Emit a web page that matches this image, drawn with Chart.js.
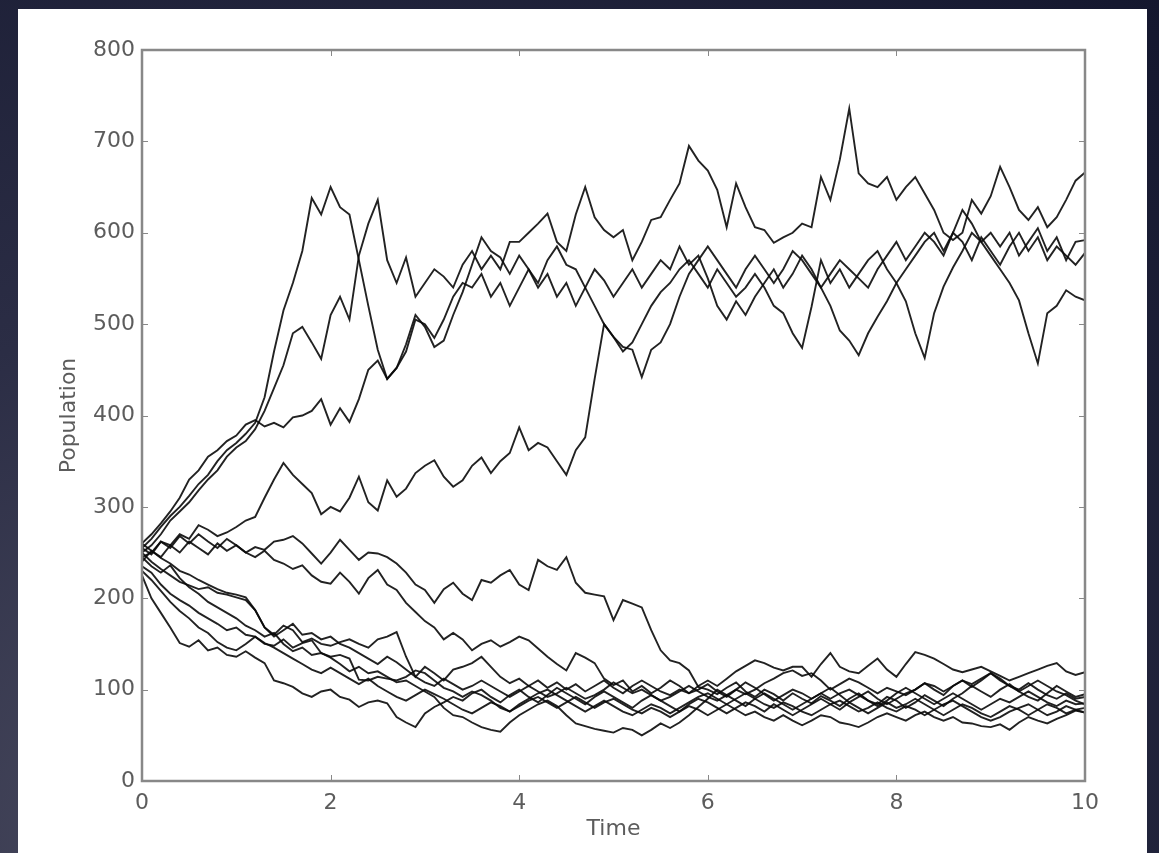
<!DOCTYPE html>
<html>
<head>
<meta charset="utf-8">
<script src="https://cdn.jsdelivr.net/npm/chart.js@4.4.1/dist/chart.umd.min.js"></script>
<style>
  html, body { margin: 0; width: 1159px; height: 853px; overflow: hidden; }
  body { background: radial-gradient(ellipse at 20% 100%, #4b4c60 0%, #2b2d45 45%, #14172e 100%); }
  #panel { position: absolute; left: 18px; top: 9px; width: 1129px; height: 844px; background: #fff; }
</style>
</head>
<body>
<div id="panel"><canvas id="chart" width="1129" height="844"></canvas></div>
<script>
const times = [
  0, 0.1, 0.2, 0.3, 0.4, 0.5, 0.6, 0.7, 0.8, 0.9,
  1, 1.1, 1.2, 1.3, 1.4, 1.5, 1.6, 1.7, 1.8, 1.9,
  2, 2.1, 2.2, 2.3, 2.4, 2.5, 2.6, 2.7, 2.8, 2.9,
  3, 3.1, 3.2, 3.3, 3.4, 3.5, 3.6, 3.7, 3.8, 3.9,
  4, 4.1, 4.2, 4.3, 4.4, 4.5, 4.6, 4.7, 4.8, 4.9,
  5, 5.1, 5.2, 5.3, 5.4, 5.5, 5.6, 5.7, 5.8, 5.9,
  6, 6.1, 6.2, 6.3, 6.4, 6.5, 6.6, 6.7, 6.8, 6.9,
  7, 7.1, 7.2, 7.3, 7.4, 7.5, 7.6, 7.7, 7.8, 7.9,
  8, 8.1, 8.2, 8.3, 8.4, 8.5, 8.6, 8.7, 8.8, 8.9,
  9, 9.1, 9.2, 9.3, 9.4, 9.5, 9.6, 9.7, 9.8, 9.9,
  10
];

// runs that climb to the upper state
const upper1 = [
  255, 265, 278, 290, 300, 312, 325, 335, 350, 362,
  370, 380, 392, 420, 470, 515, 545, 580, 638, 620,
  650, 628, 620, 570, 520, 472, 440, 452, 470, 505,
  500, 485, 505, 530, 545, 540, 555, 530, 545, 520,
  540, 560, 545, 570, 585, 565, 560, 540, 520, 500,
  486, 470, 480, 500, 520, 535, 545, 560, 570, 555,
  540, 560, 545, 530, 540, 555, 540, 520, 512, 490,
  474, 519, 570, 545, 560, 540, 555, 570, 580, 560,
  545, 525, 490, 463, 512, 541, 562, 580, 600, 590,
  575, 560, 545, 526, 490, 457, 512, 520, 537, 530,
  526
];
const upper2 = [
  250, 258, 270, 285, 295, 305, 318, 330, 340, 355,
  365, 372, 385, 405, 430, 455, 490, 497, 480, 462,
  510, 530, 505, 575, 610, 636, 570, 545, 573, 530,
  545, 560, 552, 540, 565, 580, 560, 575, 560, 590,
  590, 600, 610, 621, 590, 580, 620, 650, 617, 603,
  595, 603, 570, 590, 614, 617, 636, 654, 695, 679,
  668, 647, 606, 654, 628, 606, 603, 589, 595, 600,
  610, 606, 661, 636, 680, 736, 665, 654, 650, 661,
  636, 650, 661, 643, 625, 600, 592, 600, 636, 621,
  640, 672, 650, 625, 614, 628, 606, 617, 636, 657,
  666
];
const upper3 = [
  260, 270, 282, 295, 310, 330, 340, 355, 362, 372,
  378, 390, 395, 388, 392, 387, 398, 400, 405, 418,
  390, 408, 393, 418, 450, 460, 440, 452, 478, 510,
  497, 475, 482, 510, 535, 565, 595, 580, 573, 555,
  575, 560, 540, 555, 530, 545, 520, 540, 560, 548,
  530, 545, 560, 540, 555, 570, 560, 585, 565, 575,
  550, 520, 505, 525, 510, 530, 545, 560, 540, 555,
  575, 560, 540, 520, 493, 482, 466, 490, 508, 525,
  545, 560, 575, 590, 600, 580, 600, 625, 610, 590,
  600, 585, 600, 575, 590, 605, 580, 595, 570, 590,
  592
];
const upper4 = [
  245, 250, 262, 258, 270, 265, 280, 275, 268, 272,
  278, 285, 289, 310, 330, 348, 335, 325, 315, 292,
  300, 295, 310, 333, 305, 296, 329, 311, 320, 337,
  345, 351, 333, 322, 329, 345, 354, 337, 350, 359,
  387, 362, 370, 365, 350, 335, 362, 376, 440, 500,
  486, 475, 472, 442, 472, 480, 500, 530, 555, 570,
  585, 570, 555, 540, 560, 575, 560, 545, 560, 580,
  570, 555, 540, 555, 570, 560, 550, 540, 560, 575,
  590, 570, 585, 600, 590, 575, 600, 590, 570, 595,
  580, 565, 585, 600, 580, 595, 570, 585, 575, 565,
  578
];

// runs that settle in the lower state
const lower1 = [
  240, 252, 245, 258, 250, 262, 255, 248, 260, 252,
  258, 250, 256, 253, 262, 264, 268, 260, 249, 238,
  250, 264, 253, 242, 250, 249, 245, 238, 228, 215,
  209, 195, 210, 217, 205, 198, 220, 217, 225, 231,
  215, 209, 242, 235, 231, 245, 217, 206, 204, 202,
  176, 198, 194, 190, 165, 143, 132, 129, 121, 103,
  100, 95, 102, 108, 98, 92, 100, 95, 88, 96,
  90, 85, 93, 88, 82, 90, 96, 88, 84, 92,
  88, 80, 86, 94, 88, 82, 90, 96, 104, 98,
  92, 100, 106, 98, 92, 88, 96, 104, 98, 92,
  95
];
const lower2 = [
  255, 248, 262, 255, 268, 260, 270, 262, 255, 265,
  258, 250, 245, 252, 242, 238, 232, 236, 225, 218,
  216, 228, 218, 205, 222, 231, 215, 209, 195, 185,
  175, 168, 155, 162, 155, 143, 150, 154, 147, 152,
  158, 154, 145, 136, 128, 121, 140, 135, 129, 112,
  105, 110, 98, 104, 96, 102, 110, 104, 96, 100,
  106, 98, 92, 100, 108, 102, 95, 88, 94, 100,
  96, 90, 96, 102, 94, 86, 92, 98, 90, 84,
  90, 96, 100, 107, 100, 94, 104, 110, 103, 110,
  118, 110, 104, 100, 107, 100, 94, 90, 96, 90,
  92
];
const lower3 = [
  250, 240, 232, 225, 218, 214, 210, 212, 206, 204,
  201, 198, 187, 168, 160, 170, 165, 152, 156, 150,
  148, 152, 155, 150, 146, 155, 158, 163, 136, 114,
  125, 118, 110, 122, 125, 129, 136, 125, 114, 107,
  112, 104, 110, 102, 108, 100, 106, 98, 104, 110,
  102, 96, 104, 110, 104, 98, 94, 100, 96, 104,
  110, 104, 112, 120, 126, 132, 129, 124, 121, 125,
  125, 114, 128, 140, 125, 120, 118, 126, 134, 122,
  114, 128, 141, 138, 134, 128, 122, 119, 122, 125,
  120, 115, 110, 114, 118, 122, 126, 129, 120, 116,
  119
];
const lower4 = [
  225, 200, 184, 168, 151, 147, 154, 143, 146, 138,
  136, 142, 135, 129, 110, 107, 103, 96, 92, 98,
  100, 92, 89, 81, 86, 88, 85, 70, 64, 59,
  74, 81, 86, 92, 88, 96, 100, 92, 86, 94,
  100, 92, 86, 94, 102, 96, 90, 84, 92, 98,
  92, 86, 80, 88, 94, 88, 82, 76, 84, 90,
  86, 80, 74, 80, 86, 82, 76, 84, 78, 72,
  78, 84, 90, 84, 78, 86, 80, 74, 80, 86,
  80, 84, 90, 84, 78, 72, 78, 84, 80, 74,
  70, 76, 82, 78, 72, 78, 84, 80, 74, 78,
  75
];
const lower5 = [
  235, 228, 215, 205, 198, 192, 184, 178, 172, 165,
  168, 160, 158, 150, 148, 155, 146, 151, 154, 140,
  135, 128, 120, 125, 118, 120, 114, 108, 110, 104,
  98, 92, 80, 72, 70, 64, 59, 56, 54, 64,
  72, 78, 84, 88, 82, 72, 63, 60, 57, 55,
  53, 58, 56, 50, 56, 63, 58, 64, 72, 81,
  90, 100, 94, 88, 82, 90, 96, 90, 84, 78,
  84, 90, 96, 90, 96, 100, 94, 88, 82, 88,
  96, 102, 96, 90, 84, 90, 96, 90, 84, 78,
  84, 90, 86, 92, 98, 92, 86, 82, 88, 84,
  85
];
const lower6 = [
  245, 235, 228, 236, 222, 212, 205, 196, 190, 184,
  178, 170, 165, 158, 162, 150, 142, 146, 138, 140,
  136, 138, 134, 111, 110, 114, 112, 110, 114, 121,
  118, 110, 102, 98, 92, 98, 94, 88, 80, 76,
  82, 88, 92, 86, 80, 86, 92, 86, 80, 86,
  90, 84, 78, 74, 80, 76, 70, 76, 82, 78,
  72, 78, 84, 78, 72, 76, 70, 66, 72, 66,
  61, 66, 72, 70, 64, 62, 59, 64, 70, 74,
  70, 66, 72, 76, 70, 66, 70, 64, 63, 60,
  59, 62, 56, 64, 70, 66, 63, 68, 72, 77,
  75
];
const lower7 = [
  260, 252, 244, 238, 230, 226, 220, 215, 210, 206,
  204, 201, 187, 168, 158, 165, 172, 160, 162, 155,
  158, 150, 146, 140, 134, 128, 136, 130, 122, 114,
  108, 104, 112, 106, 100, 104, 110, 104, 98, 92,
  98, 104, 98, 92, 96, 102, 96, 90, 94, 100,
  108, 102, 96, 100, 94, 88, 92, 98, 104, 98,
  92, 88, 94, 100, 95, 100, 107, 112, 118, 121,
  115, 118, 110, 100, 106, 112, 108, 102, 96, 102,
  98, 94, 100, 107, 104, 98, 104, 110, 106, 112,
  118, 112, 104, 98, 104, 110, 104, 98, 94, 88,
  84
];
const lower8 = [
  230, 220, 208, 196, 186, 178, 168, 162, 152, 146,
  143, 150, 158, 151, 146, 140, 134, 128, 122, 118,
  124, 118, 112, 106, 112, 104, 98, 92, 88, 94,
  100, 95, 90, 84, 78, 74, 80, 86, 82, 76,
  84, 90, 96, 100, 94, 88, 82, 76, 82, 88,
  82, 76, 72, 78, 84, 80, 74, 80, 86, 92,
  96, 90, 84, 90, 96, 90, 84, 80, 86, 82,
  76, 72, 78, 84, 88, 82, 76, 80, 86, 80,
  76, 82, 78, 72, 78, 84, 88, 82, 76, 70,
  66, 70, 76, 80, 84, 78, 72, 76, 82, 78,
  80
];

const runs = [upper1, upper2, upper3, upper4, lower1, lower2, lower3, lower4, lower5, lower6, lower7, lower8];
const xTicks = [0, 2, 4, 6, 8, 10];
const yTicks = [0, 100, 200, 300, 400, 500, 600, 700, 800];

const textColor = "#5c5c5c";
const frameColor = "#888888";
const font = { family: "DejaVu Sans", size: 22 };

// matplotlib style box with ticks pointing inwards
const frameBox = {
  id: "frameBox",
  afterDraw(chart) {
    const { ctx, chartArea: a, scales } = chart;
    ctx.save();
    ctx.strokeStyle = frameColor;
    ctx.lineWidth = 1;
    xTicks.forEach(v => {
      const px = Math.round(scales.x.getPixelForValue(v)) + 0.5;
      ctx.beginPath();
      ctx.moveTo(px, a.bottom); ctx.lineTo(px, a.bottom - 6);
      ctx.moveTo(px, a.top); ctx.lineTo(px, a.top + 6);
      ctx.stroke();
    });
    yTicks.forEach(v => {
      const py = Math.round(scales.y.getPixelForValue(v)) + 0.5;
      ctx.beginPath();
      ctx.moveTo(a.left, py); ctx.lineTo(a.left + 6, py);
      ctx.moveTo(a.right, py); ctx.lineTo(a.right - 6, py);
      ctx.stroke();
    });
    ctx.lineWidth = 2.5;
    ctx.strokeRect(a.left, a.top, a.right - a.left, a.bottom - a.top);
    ctx.restore();
  }
};

const getDatasets = () =>
  runs.map(values => ({
    data: values.map((v, i) => ({ x: times[i], y: v })),
    borderColor: "rgba(10,10,10,0.9)",
    borderWidth: 1.9,
    pointRadius: 0,
    tension: 0,
    fill: false
  }));

new Chart(document.getElementById("chart"), {
  type: "line",
  data: { datasets: getDatasets() },
  options: {
    responsive: false,
    animation: false,
    layout: { padding: { left: 37, top: 41, right: 62, bottom: 0 } },
    plugins: { legend: { display: false }, tooltip: { enabled: false } },
    scales: {
      x: {
        type: "linear",
        min: 0,
        max: 10,
        afterBuildTicks: s => { s.ticks = xTicks.map(v => ({ value: v })); },
        afterFit: s => { s.height = 72; },
        ticks: { color: textColor, font, padding: 9, maxRotation: 0 },
        grid: { display: false, drawTicks: false },
        border: { display: false },
        title: { display: true, text: "Time", color: textColor, font, padding: { top: 0, bottom: 11 } }
      },
      y: {
        type: "linear",
        min: 0,
        max: 800,
        afterBuildTicks: s => { s.ticks = yTicks.map(v => ({ value: v })); },
        afterFit: s => { s.width = 87; },
        ticks: { color: textColor, font, padding: 7 },
        grid: { display: false, drawTicks: false },
        border: { display: false },
        title: { display: true, text: "Population", color: textColor, font, padding: { top: 1, bottom: 0 } }
      }
    }
  },
  plugins: [frameBox]
});
</script>
</body>
</html>
